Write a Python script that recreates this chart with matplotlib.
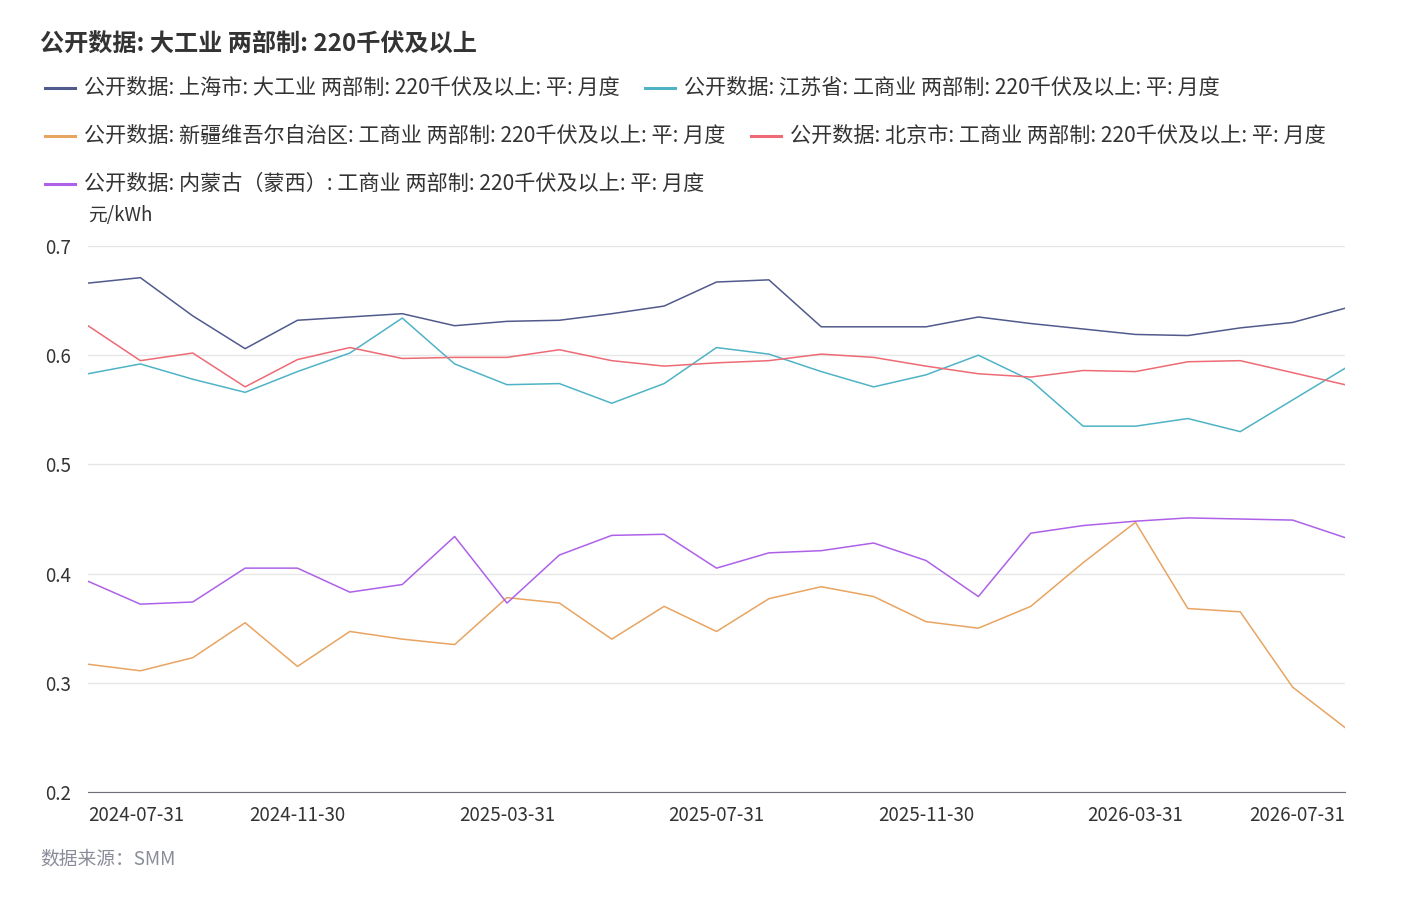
import matplotlib.pyplot as plt
from matplotlib.lines import Line2D

plt.rcParams['font.family'] = ['Noto Sans CJK SC', 'DejaVu Sans']

# monthly dates, 2024-07-31 .. 2026-07-31
dates = ['2024-07-31', '2024-08-31', '2024-09-30', '2024-10-31', '2024-11-30',
         '2024-12-31', '2025-01-31', '2025-02-28', '2025-03-31', '2025-04-30',
         '2025-05-31', '2025-06-30', '2025-07-31', '2025-08-31', '2025-09-30',
         '2025-10-31', '2025-11-30', '2025-12-31', '2026-01-31', '2026-02-28',
         '2026-03-31', '2026-04-30', '2026-05-31', '2026-06-30', '2026-07-31']

shanghai = [0.666, 0.671, 0.636, 0.606, 0.632, 0.635, 0.638, 0.627, 0.631, 0.632,
            0.638, 0.645, 0.667, 0.669, 0.626, 0.626, 0.626, 0.635, 0.629, 0.624,
            0.619, 0.618, 0.625, 0.630, 0.643]
jiangsu = [0.583, 0.592, 0.578, 0.566, 0.585, 0.602, 0.634, 0.592, 0.573, 0.574,
           0.556, 0.574, 0.607, 0.601, 0.585, 0.571, 0.582, 0.600, 0.577, 0.535,
           0.535, 0.542, 0.530, 0.559, 0.588]
xinjiang = [0.317, 0.311, 0.323, 0.355, 0.315, 0.347, 0.340, 0.335, 0.378, 0.373,
            0.340, 0.370, 0.347, 0.377, 0.388, 0.379, 0.356, 0.350, 0.370, 0.410,
            0.447, 0.368, 0.365, 0.296, 0.259]
beijing = [0.627, 0.595, 0.602, 0.571, 0.596, 0.607, 0.597, 0.598, 0.598, 0.605,
           0.595, 0.590, 0.593, 0.595, 0.601, 0.598, 0.590, 0.583, 0.580, 0.586,
           0.585, 0.594, 0.595, 0.584, 0.573]
neimenggu = [0.393, 0.372, 0.374, 0.405, 0.405, 0.383, 0.390, 0.434, 0.373, 0.417,
             0.435, 0.436, 0.405, 0.419, 0.421, 0.428, 0.412, 0.379, 0.437, 0.444,
             0.448, 0.451, 0.450, 0.449, 0.433]

names = ['公开数据: 上海市: 大工业 两部制: 220千伏及以上: 平: 月度',
         '公开数据: 江苏省: 工商业 两部制: 220千伏及以上: 平: 月度',
         '公开数据: 新疆维吾尔自治区: 工商业 两部制: 220千伏及以上: 平: 月度',
         '公开数据: 北京市: 工商业 两部制: 220千伏及以上: 平: 月度',
         '公开数据: 内蒙古（蒙西）: 工商业 两部制: 220千伏及以上: 平: 月度']
series = [shanghai, jiangsu, xinjiang, beijing, neimenggu]
colors = ['#515a8c', '#4fb3c6', '#e8a461', '#ee6a75', '#ae61e8']

W, H = 1428, 897
fig = plt.figure(figsize=(W / 100, H / 100), dpi=100)
ax = fig.add_axes([88 / W, 1 - 792 / H, (1345 - 88) / W, (792 - 246) / H])

x = list(range(len(dates)))
for vals, c in zip(series, colors):
    ax.plot(x, vals, color=c, lw=1.1)

ax.set_xlim(0, len(dates) - 1)
ax.set_ylim(0.2, 0.7)
ax.set_yticks([0.2, 0.3, 0.4, 0.5, 0.6, 0.7])
ax.set_yticklabels(['0.2', '0.3', '0.4', '0.5', '0.6', '0.7'])
ax.grid(axis='y', color='#e6e6e6', lw=1)
ax.set_axisbelow(True)
for s in ['top', 'right', 'left']:
    ax.spines[s].set_visible(False)
ax.spines['bottom'].set_color('#6e7079')
ax.tick_params(axis='y', length=0, pad=12, labelsize=13.5, labelcolor='#333333')
ax.tick_params(axis='x', length=0, pad=9, labelsize=13.5, labelcolor='#333333')

tick_idx = list(range(0, len(dates), 4))
ax.set_xticks(tick_idx)
ax.set_xticklabels([dates[i] for i in tick_idx])
labels = ax.get_xticklabels()
labels[0].set_ha('left')
labels[-1].set_ha('right')

# title
fig.text(40 / W, 1 - 45 / H, '公开数据: 大工业 两部制: 220千伏及以上', fontsize=17.4,
         fontweight='bold', color='#333333', va='center', ha='left')

# legend placed by hand (rows of 2, 2, 1)
leg_pos = [(45, 88), (645, 88), (45, 136), (751, 136), (45, 184)]
for (px, py), name, c in zip(leg_pos, names, colors):
    fig.add_artist(Line2D([px / W, (px + 30) / W], [1 - py / H, 1 - py / H],
                          color=c, lw=2.2, transform=fig.transFigure))
    fig.text((px + 39) / W, 1 - py / H, name, fontsize=15.2, color='#333333',
             va='center', ha='left')

fig.text(88 / W, 1 - 215 / H, '元/kWh', fontsize=13.5, color='#333333',
         va='center', ha='left')
fig.text(40 / W, 1 - 859 / H, '数据来源：SMM', fontsize=13.5, color='#8a8d99',
         style='italic', va='center', ha='left')

fig.savefig('out.png', dpi=100)
